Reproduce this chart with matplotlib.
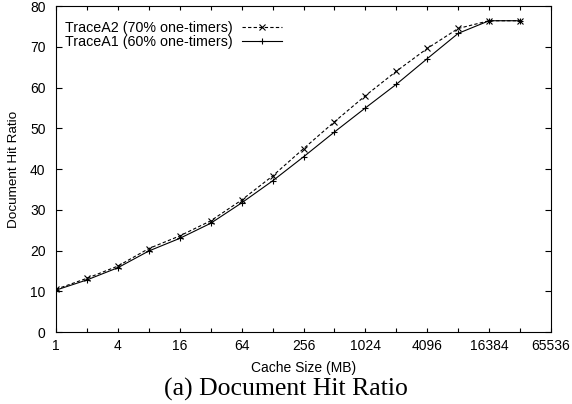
import matplotlib
matplotlib.use('Agg')
import matplotlib.pyplot as plt
from matplotlib.ticker import FixedLocator, NullFormatter

plt.rcParams['font.family'] = ['Liberation Sans', 'DejaVu Sans']

# cache sizes (MB), powers of two
cache_mb = [1, 2, 4, 8, 16, 32, 64, 128, 256, 512, 1024, 2048, 4096, 8192, 16384, 32768]
trace_a2 = [10.5, 13.2, 16.2, 20.5, 23.6, 27.3, 32.4, 38.3, 45.0, 51.6, 58.0, 64.0, 69.6, 74.5, 76.4, 76.4]
trace_a1 = [10.3, 12.8, 15.8, 19.9, 23.0, 26.7, 31.7, 37.1, 43.0, 49.1, 55.0, 60.8, 67.1, 73.3, 76.4, 76.4]
xtick_vals = [1, 4, 16, 64, 256, 1024, 4096, 16384, 65536]

fig = plt.figure(figsize=(5.72, 4.04), dpi=100)
ax = fig.add_axes([0.0979, 0.178, 0.8654, 0.807])

ax.plot(cache_mb, trace_a2, color='black', linestyle=(0, (3, 2)), linewidth=0.8,
        marker='x', markersize=4, markeredgewidth=0.8, label='TraceA2 (70% one-timers)')
ax.plot(cache_mb, trace_a1, color='black', linestyle='-', linewidth=0.8,
        marker='+', markersize=5, markeredgewidth=0.8, label='TraceA1 (60% one-timers)')

ax.set_xscale('log', base=2)
ax.set_xlim(1, 65536)
ax.set_ylim(0, 80)
ax.xaxis.set_major_locator(FixedLocator(xtick_vals))
ax.set_xticklabels([str(v) for v in xtick_vals])
ax.xaxis.set_minor_locator(FixedLocator([2 ** k for k in range(1, 16, 2)]))
ax.xaxis.set_minor_formatter(NullFormatter())
ax.set_yticks(range(0, 81, 10))

ax.tick_params(which='both', direction='in', top=True, right=True, labelsize=10, width=0.8)
ax.tick_params(axis='x', which='both', length=3, pad=5)
ax.tick_params(axis='y', length=4, pad=7.5)
for s in ax.spines.values():
    s.set_linewidth(0.8)

ax.set_xlabel('Cache Size (MB)', fontsize=10)
ax.xaxis.set_label_coords(0.5, -0.088)
ax.set_ylabel('Document Hit Ratio', fontsize=9.7, va='center')
ax.yaxis.set_label_coords(-0.085, 0.5)

ax.legend(loc='upper left', frameon=False, markerfirst=False, fontsize=10.3,
          handlelength=2.8, handletextpad=0.65, labelspacing=0.0,
          borderaxespad=0, borderpad=0, bbox_to_anchor=(0.018, 0.954))

fig.text(0.5, 0.02, '(a) Document Hit Ratio', ha='center', va='baseline',
         fontsize=18.5, family=['Liberation Serif', 'DejaVu Serif'])

fig.savefig('out.png', dpi=100)
